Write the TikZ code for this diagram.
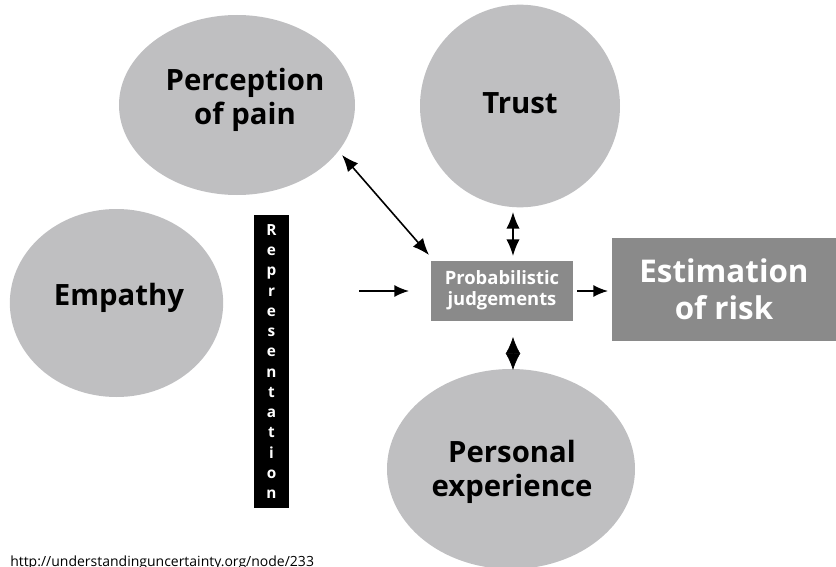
\documentclass[tikz,border=0pt]{standalone}
\usepackage{fontspec}
\setmainfont{Open Sans}
\usetikzlibrary{shapes.geometric,arrows.meta}
\definecolor{lightg}{HTML}{BFBFC1}
\definecolor{darkg}{HTML}{8A8A8A}
\begin{document}
\begin{tikzpicture}[x=0.75pt,y=-0.75pt,
  blob/.style={ellipse,fill=lightg,inner sep=0pt},
  blobtext/.style={align=center,font=\fontsize{22}{25}\selectfont\bfseries},
  darkbox/.style={rectangle,fill=darkg,inner sep=0pt,align=center,text=white},
  conn/.style={line width=1.2pt,-{Latex[length=11pt,width=9pt]}},
  dconn/.style={line width=1.2pt,{Latex[length=12.5pt,width=10pt]}-{Latex[length=12.5pt,width=10pt]}}]
\useasboundingbox (0,0) rectangle (836,567);
\clip (0,0) rectangle (836,567);
\node[blob,minimum width=177pt,minimum height=135pt] (pain) at (237,105) {};
\node[blobtext] (paintxt) at (245,100) {Perception\\of pain};
\node[blob,minimum width=150pt,minimum height=152pt] (trust) at (520,106) {};
\node[blobtext] (trusttxt) at (520,103) {Trust};
\node[blob,minimum width=160pt,minimum height=141pt] (emp) at (116.5,303) {};
\node[blobtext] (emptxt) at (119,298) {Empathy};
\node[blob,minimum width=186pt,minimum height=150pt] (pers) at (511,469) {};
\node[blobtext] (perstxt) at (512,472) {Personal\\experience};
\node[rectangle,fill=black,inner sep=0pt,minimum width=26.25pt,minimum height=219.75pt,text=white,
  font=\fontsize{11.5}{15.2}\selectfont\bfseries,align=center] (rep) at (271.5,361.5)
  {R\\e\\p\\r\\e\\s\\e\\n\\t\\a\\t\\i\\o\\n};
\node[darkbox,minimum width=106.5pt,minimum height=45pt,font=\fontsize{13.8}{16}\selectfont\bfseries] (prob) at (502,290.5) {Probabilistic\\judgements};
\node[darkbox,minimum width=168pt,minimum height=77.25pt,font=\fontsize{23.5}{28}\selectfont\bfseries] (est) at (724,289.5) {Estimation\\of risk};
\coordinate (a1) at (342,155);
\coordinate (a2) at (429,255);
\draw[dconn] (a1) -- (a2);
\coordinate (t1) at (513,212);
\coordinate (t2) at (513,256);
\draw[dconn] (t1) -- (t2);
\coordinate (l1) at (359,291);
\coordinate (l2) at (409,291);
\draw[conn] (l1) -- (l2);
\coordinate (r1) at (577,291);
\coordinate (r2) at (608,291);
\draw[conn] (r1) -- (r2);
\coordinate (d1) at (513,337);
\coordinate (d2) at (513,370);
\draw[line width=0.5pt,{Latex[length=12.5pt,width=11pt]}-{Latex[length=12.5pt,width=11pt]}] (d1) -- (d2);
\node[anchor=base west,font=\fontsize{10.5}{12}\selectfont,inner sep=0pt] (url) at (10,566) {http://understandinguncertainty.org/node/233};
\end{tikzpicture}
\end{document}
